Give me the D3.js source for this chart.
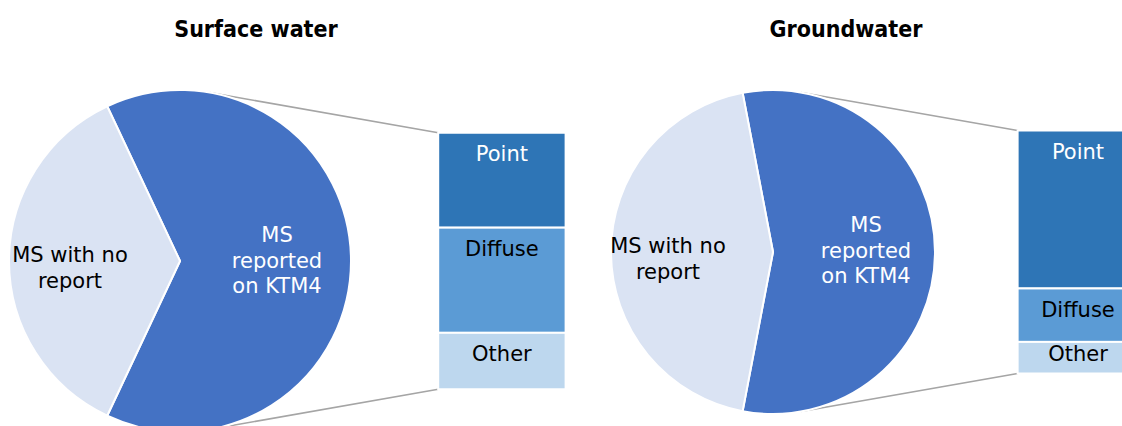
<!DOCTYPE html>
<html>
<head>
<meta charset="utf-8">
<script src="https://cdn.jsdelivr.net/npm/d3@7"></script>
<style>
  html, body { margin: 0; padding: 0; background: #fff; }
  svg { display: block; }
  text { font-family: "DejaVu Sans", Verdana, sans-serif; }
</style>
</head>
<body>
<svg id="chart" width="1122" height="426"></svg>
<script>
// ---- data ----
const chartTitles = ["Surface water", "Groundwater"];
const pieCategories = ["MS reported on KTM4", "MS with no report"];
const surfacePie = [64, 36];
const groundPie = [56, 44];
const barCategories = ["Point", "Diffuse", "Other"];
const surfaceBar = [37, 41, 22];
const groundBar = [65, 22, 13];

// ---- styles ----
const pieColors = ["#4472C4", "#DAE3F3"];
const pieLabelColors = ["#ffffff", "#000000"];
const barColors = ["#2E75B6", "#5B9BD5", "#BDD7EE"];
const barLabelColors = ["#ffffff", "#000000", "#000000"];

const svg = d3.select("#chart");

const panels = [
  { title: chartTitles[0], pie: surfacePie, bar: surfaceBar, cx: 180, cy: 261, r: 171, titleX: 256,
    pieLabelPos: [[277, 242], [70, 262]] },
  { title: chartTitles[1], pie: groundPie, bar: groundBar, cx: 773, cy: 252, r: 162, titleX: 846,
    pieLabelPos: [[866, 232], [668, 253]] }
];

const pieLabelLines = [["MS", "reported", "on KTM4"], ["MS with no", "report"]];
const lineH = 25.5;

panels.forEach(p => {
  // title
  svg.append("text")
    .attr("x", p.titleX).attr("y", 36.5)
    .attr("text-anchor", "middle")
    .style("font-family", "'DejaVu Sans Condensed', 'DejaVu Sans', sans-serif")
    .style("font-weight", "bold")
    .style("font-size", "23px")
    .attr("fill", "#000")
    .text(p.title);

  // bar geometry
  const barX = p.cx + 1.51 * p.r;
  const barW = 0.745 * p.r;
  const barTop = p.cy - 0.75 * p.r;
  const barBot = p.cy + 0.75 * p.r;

  // connector lines (tangent from bar corners to the pie)
  [[barTop, -1], [barBot, 1]].forEach(([py, side]) => {
    const dx = barX - p.cx, dy = py - p.cy;
    const d = Math.hypot(dx, dy);
    const th = Math.atan2(dy, dx);
    const a = Math.acos(p.r / d);
    const t = side < 0 ? th - a : th + a;
    svg.append("line")
      .attr("x1", p.cx + p.r * Math.cos(t)).attr("y1", p.cy + p.r * Math.sin(t))
      .attr("x2", barX).attr("y2", py)
      .attr("stroke", "#A5A5A5").attr("stroke-width", 1.5);
  });

  // pie
  const total = d3.sum(p.pie);
  const frac = p.pie[0] / total;
  const start = Math.PI / 2 - frac * Math.PI;
  const pie = d3.pie().sort(null).startAngle(start).endAngle(start + 2 * Math.PI);
  const arc = d3.arc().innerRadius(0).outerRadius(p.r);
  const g = svg.append("g").attr("transform", `translate(${p.cx},${p.cy})`);
  g.selectAll("path").data(pie(p.pie)).join("path")
    .attr("d", arc)
    .attr("fill", (d, i) => pieColors[i])
    .attr("stroke", "#fff").attr("stroke-width", 2).attr("stroke-linejoin", "round");

  // pie labels
  pieCategories.forEach((c, i) => {
    const t = svg.append("text")
      .attr("text-anchor", "middle")
      .style("font-size", "21px")
      .attr("fill", pieLabelColors[i]);
    pieLabelLines[i].forEach((ln, k) => {
      t.append("tspan").attr("x", p.pieLabelPos[i][0]).attr("y", p.pieLabelPos[i][1] + k * lineH).text(ln);
    });
  });

  // stacked bar
  const btotal = d3.sum(p.bar);
  const y = d3.scaleLinear().domain([0, btotal]).range([barTop, barBot]);
  const cum = d3.cumsum(p.bar);
  const segs = p.bar.map((v, i) => ({ v, i, y0: cum[i] - v, y1: cum[i] }));
  svg.append("g").selectAll("rect").data(segs).join("rect")
    .attr("x", barX).attr("width", barW)
    .attr("y", d => y(d.y0)).attr("height", d => y(d.y1) - y(d.y0))
    .attr("fill", d => barColors[d.i])
    .attr("stroke", "#fff").attr("stroke-width", 2);

  svg.append("g").selectAll("text").data(segs).join("text")
    .attr("x", barX + barW / 2)
    .attr("y", d => {
      const h = y(d.y1) - y(d.y0);
      return y(d.y0) + Math.min(28.5, h / 2 + 3);
    })
    .attr("text-anchor", "middle")
    .style("font-size", "21px")
    .attr("fill", d => barLabelColors[d.i])
    .text(d => barCategories[d.i]);
});
</script>
</body>
</html>
